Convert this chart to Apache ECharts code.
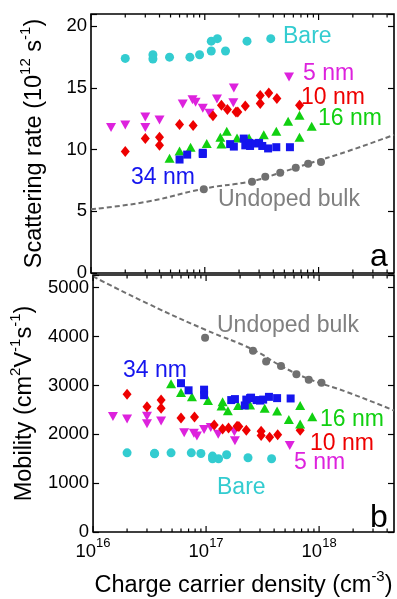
<!DOCTYPE html>
<html>
<head>
<meta charset="utf-8">
<script src="https://cdn.jsdelivr.net/npm/echarts@6/dist/echarts.min.js"></script>
<style>
  html, body { margin: 0; padding: 0; background: #fff; }
  #chart { width: 397px; height: 599px; }
</style>
</head>
<body>
<div id="chart"></div>
<script>
// carrier densities (cm^-3) and values
const bareDensity = [2.0e16, 3.5e16, 3.5e16, 4.9e16, 7.4e16, 9.0e16, 1.14e17, 1.14e17, 1.29e17, 1.52e17, 2.35e17, 3.8e17]
const bareRate = [17.4, 17.7, 17.35, 17.5, 17.5, 17.7, 18.0, 18.8, 19.0, 18.0, 18.8, 19.0]
const bareMobility = [1620, 1600, 1610, 1620, 1620, 1606, 1553, 1500, 1500, 1580, 1520, 1500]

const fiveDensity = [1.5e16, 2.0e16, 3.0e16, 3.0e16, 4.0e16, 6.4e16, 7.8e16, 8.3e16, 9.6e16, 1.1e17, 1.28e17, 1.8e17, 1.78e17, 5.5e17]
const fiveRate = [11.8, 12.0, 12.65, 11.8, 12.4, 13.7, 14.05, 13.85, 13.35, 12.95, 14.1, 15.0, 13.8, 15.9]
const fiveMobility = [2366, 2313, 2215, 2370, 2270, 2033, 2020, 1966, 2100, 2140, 2000, 1870, 2050, 1770]

const tenDensity = [2.0e16, 3.0e16, 4.0e16, 4.0e16, 6.0e16, 7.9e16, 1.18e17, 1.4e17, 1.58e17, 1.88e17, 1.95e17, 2.27e17, 3.07e17, 3.07e17, 3.65e17, 4.3e17, 6.8e17]
const tenRate = [9.85, 10.9, 11.0, 10.35, 12.05, 11.95, 12.75, 13.6, 13.25, 13.05, 13.05, 13.55, 14.4, 13.75, 14.6, 14.15, 13.6]
const tenMobility = [2820, 2566, 2533, 2700, 2333, 2353, 2190, 2110, 2130, 2166, 2160, 2080, 1975, 2060, 1940, 1990, 2080]

const sixteenDensity = [4.9e16, 6.0e16, 7.5e16, 1.04e17, 1.37e17, 1.4e17, 1.56e17, 1.92e17, 2.45e17, 3.3e17, 4.25e17, 5.4e17, 6.8e17, 6.8e17, 8.7e17]
const sixteenRate = [9.3, 9.9, 10.2, 10.5, 11.0, 10.45, 11.5, 10.95, 10.95, 11.2, 11.5, 12.3, 12.8, 11.0, 11.9]
const sixteenMobility = [3033, 2856, 2770, 2690, 2580, 2666, 2480, 2590, 2600, 2533, 2475, 2300, 2210, 2590, 2360]

const thirtyFourDensity = [6.0e16, 7.0e16, 9.6e16, 9.6e16, 1.67e17, 1.8e17, 2.2e17, 2.27e17, 2.45e17, 2.5e17, 2.8e17, 3.0e17, 3.2e17, 3.6e17, 4.25e17, 5.6e17]
const thirtyFourRate = [9.2, 9.6, 9.65, 9.75, 10.45, 10.25, 10.9, 10.35, 10.55, 10.3, 10.5, 10.55, 10.3, 10.1, 10.2, 10.2]
const thirtyFourMobility = [3046, 2900, 2913, 2800, 2700, 2720, 2590, 2710, 2740, 2750, 2700, 2690, 2710, 2766, 2740, 2733]

const bulkDensity = [9.8e16, 2.6e17, 3.4e17, 4.6e17, 6.3e17, 8.1e17, 1.05e18]
const bulkRate = [6.79, 7.4, 7.81, 8.13, 8.54, 8.86, 9.0]
const bulkMobility = [3975, 3710, 3490, 3395, 3230, 3115, 3055]

// dashed "undoped bulk" curve
const bulkFitDensity = [1e16, 3.1e16, 1e17, 2.6e17, 4.6e17, 8.1e17, 1.76e18, 4.6e18]
const bulkFitRate = [5.17, 5.78, 6.85, 7.45, 8.13, 8.86, 9.84, 11.2]
const bulkFitMobility = [5230, 4666, 4133, 3733, 3400, 3133, 2866, 2486]

const xMajorTicks = [1e16, 1e17, 1e18]
const xMinorTicks = [2e16, 3e16, 4e16, 5e16, 6e16, 7e16, 8e16, 9e16,
  2e17, 3e17, 4e17, 5e17, 6e17, 7e17, 8e17, 9e17, 2e18, 3e18, 4e18]

const FONT = '"Liberation Sans", Arial, sans-serif'
const X_MIN = 1e16
const X_MAX = 4.6e18
const RATE_MAX = 21
const MOB_MAX = 5260

const colors = {
  bare: '#33CCD0',
  five: '#DD22DD',
  ten: '#EE0000',
  sixteen: '#11D011',
  thirtyFour: '#1515EE',
  bulk: '#707070'
}

const zip = (xs, ys) => xs.map((x, i) => [x, ys[i]])

const chart = echarts.init(document.getElementById('chart'), null, { renderer: 'canvas' })

function xAxisFor(gridIndex, showLabels) {
  return {
    type: 'log',
    gridIndex,
    min: X_MIN,
    max: X_MAX,
    logBase: 10,
    axisLine: { show: false },
    axisTick: { show: false },
    splitLine: { show: false },
    axisLabel: {
      show: showLabels,
      margin: 5,
      color: '#000',
      fontFamily: FONT,
      formatter: (v) => {
        const e = Math.round(Math.log10(v))
        if (Math.abs(Math.log10(v) - e) > 1e-6) return ''
        return '{b|10}{sup|' + e + '}'
      },
      rich: {
        b: { fontSize: 18.5, lineHeight: 30, fontFamily: FONT, color: '#000' },
        sup: { fontSize: 13, verticalAlign: 'top', fontFamily: FONT, color: '#000' }
      }
    },
    name: showLabels ? '{n|Charge carrier density (cm}{sup|-3}{n|)}' : '',
    nameLocation: 'middle',
    nameGap: 37,
    nameTextStyle: {
      rich: {
        n: { fontSize: 23.5, lineHeight: 34, fontFamily: FONT, color: '#000' },
        sup: { fontSize: 15, verticalAlign: 'top', fontFamily: FONT, color: '#000' }
      }
    }
  }
}

function yAxisFor(gridIndex, max, interval, position, name, nameGap) {
  const right = position === 'right'
  return {
    type: 'value',
    gridIndex,
    position,
    min: 0,
    max,
    interval,
    axisLine: { show: false },
    splitLine: { show: false },
    axisTick: { show: true, inside: true, length: 6, lineStyle: { color: '#000', width: 1.2 } },
    axisLabel: {
      show: !right,
      margin: 4,
      color: '#000',
      fontSize: 18.5,
      fontFamily: FONT,
      formatter: (v) => (v % interval === 0 ? String(v) : '')
    },
    name: right ? '' : name,
    nameLocation: 'middle',
    nameGap,
    nameTextStyle: {
      rich: {
        n: { fontSize: 23.5, lineHeight: 34, fontFamily: FONT, color: '#000' },
        sup: { fontSize: 15, verticalAlign: 'top', fontFamily: FONT, color: '#000' }
      }
    }
  }
}

// x ticks (major + minor, 2..9 per decade) on bottom and top edge of each panel
function tickSeries(xIndex, yIndex, yMax) {
  const data = xMajorTicks.map(v => [v, 1]).concat(xMinorTicks.map(v => [v, 0]))
  return {
    type: 'custom',
    xAxisIndex: xIndex,
    yAxisIndex: yIndex,
    silent: true,
    z: 10,
    encode: { x: 0 },
    data,
    renderItem: (params, api) => {
      const x = api.value(0)
      const len = api.value(1) ? 6 : 3.5
      const b = api.coord([x, 0])
      const t = api.coord([x, yMax])
      const st = { stroke: '#000', lineWidth: 1.2 }
      return {
        type: 'group',
        children: [
          { type: 'line', shape: { x1: b[0], y1: b[1], x2: b[0], y2: b[1] - len }, style: st },
          { type: 'line', shape: { x1: t[0], y1: t[1], x2: t[0], y2: t[1] + len }, style: st }
        ]
      }
    }
  }
}

function scatter(xIndex, yIndex, data, color, symbol, size, rotate) {
  return {
    type: 'scatter',
    xAxisIndex: xIndex,
    yAxisIndex: yIndex,
    data,
    symbol,
    symbolSize: size,
    symbolRotate: rotate || 0,
    itemStyle: { color, opacity: 1 },
    silent: true
  }
}

function fitLine(xIndex, yIndex, data) {
  return {
    type: 'line',
    xAxisIndex: xIndex,
    yAxisIndex: yIndex,
    data,
    smooth: true,
    showSymbol: false,
    silent: true,
    lineStyle: { color: colors.bulk, width: 2, type: [5, 3] }
  }
}

function panelSeries(xIndex, yIndex, yMax, rate) {
  const pick = (a, b) => (rate ? a : b)
  return [
    fitLine(xIndex, yIndex, zip(bulkFitDensity, pick(bulkFitRate, bulkFitMobility))),
    scatter(xIndex, yIndex, zip(bulkDensity, pick(bulkRate, bulkMobility)), colors.bulk, 'circle', 8),
    scatter(xIndex, yIndex, zip(bareDensity, pick(bareRate, bareMobility)), colors.bare, 'circle', 9),
    scatter(xIndex, yIndex, zip(fiveDensity, pick(fiveRate, fiveMobility)), colors.five, 'triangle', [10, 9], 180),
    scatter(xIndex, yIndex, zip(tenDensity, pick(tenRate, tenMobility)), colors.ten, 'diamond', [9, 11]),
    scatter(xIndex, yIndex, zip(sixteenDensity, pick(sixteenRate, sixteenMobility)), colors.sixteen, 'triangle', [10, 9]),
    scatter(xIndex, yIndex, zip(thirtyFourDensity, pick(thirtyFourRate, thirtyFourMobility)), colors.thirtyFour, 'rect', 8),
    tickSeries(xIndex, yIndex, yMax)
  ]
}

function label(text, x, y, color, size, align) {
  return {
    type: 'text',
    x,
    y,
    silent: true,
    style: {
      text,
      fill: color,
      font: (size || 23) + 'px ' + FONT,
      align: align || 'left',
      verticalAlign: 'middle'
    }
  }
}

const option = {
  animation: false,
  backgroundColor: '#fff',
  grid: [
    { left: 91, top: 14, width: 303, height: 259, show: true, borderColor: '#000', borderWidth: 1.6, backgroundColor: 'transparent' },
    { left: 91, top: 275, width: 303, height: 263, show: true, borderColor: '#000', borderWidth: 1.6, backgroundColor: 'transparent' }
  ],
  xAxis: [xAxisFor(0, false), xAxisFor(1, true)],
  yAxis: [
    yAxisFor(0, RATE_MAX, 5, 'left', '{n|Scattering rate (10}{sup|12}{n| s}{sup|-1}{n|)}', 39),
    yAxisFor(0, RATE_MAX, 5, 'right', '', 0),
    yAxisFor(1, MOB_MAX, 1000, 'left', '{n|Mobility (cm}{sup|2}{n|V}{sup|-1}{n|s}{sup|-1}{n|)}', 38),
    yAxisFor(1, MOB_MAX, 1000, 'right', '', 0)
  ],
  series: panelSeries(0, 0, RATE_MAX, true).concat(panelSeries(1, 2, MOB_MAX, false)),
  graphic: [
    label('Bare', 283, 37, colors.bare),
    label('5 nm', 303, 74, colors.five),
    label('10 nm', 301, 97.5, colors.ten),
    label('16 nm', 318, 119, colors.sixteen),
    label('34 nm', 131, 177.5, colors.thirtyFour),
    label('Undoped bulk', 218, 200, '#808080'),
    label('a', 379, 257, '#000', 32, 'center'),
    label('Undoped bulk', 217, 326, '#808080'),
    label('34 nm', 123, 371, colors.thirtyFour),
    label('16 nm', 320, 419.5, colors.sixteen),
    label('10 nm', 310, 444, colors.ten),
    label('5 nm', 294, 463, colors.five),
    label('Bare', 217, 488, colors.bare),
    label('b', 379, 518, '#000', 32, 'center')
  ]
}

chart.setOption(option)
</script>
</body>
</html>
